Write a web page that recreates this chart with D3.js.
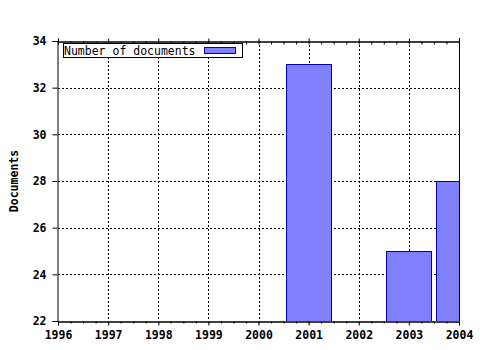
<!DOCTYPE html>
<html>
<head>
<meta charset="utf-8">
<title>Documents</title>
<script src="https://d3js.org/d3.v7.min.js"></script>
<style>
body { margin:0; background:#fff; }
text { font-family: "DejaVu Sans Mono", monospace; }
</style>
</head>
<body>
<svg id="chart" width="480" height="350"></svg>
<script>
// data
var years = [2001, 2003, 2004];
var docs = [33, 25, 28];
var yearTicks = [1996, 1997, 1998, 1999, 2000, 2001, 2002, 2003, 2004];
var docTicks = [22, 24, 26, 28, 30, 32, 34];

var pLeft = 58, pRight = 459, pTop = 41, pBottom = 321;
var svg = d3.select('#chart');
var x = d3.scaleLinear().domain([1996, 2004]).range([pLeft, pRight]);
var y = d3.scaleLinear().domain([22, 34]).range([pBottom, pTop]);

// grid
var grid = svg.append('g').attr('stroke', '#000').attr('stroke-dasharray', '2,2');
grid.selectAll('.gx').data(yearTicks.slice(1, -1)).enter().append('line')
  .attr('x1', d => Math.round(x(d)) + 0.5).attr('x2', d => Math.round(x(d)) + 0.5)
  .attr('y1', pTop).attr('y2', pBottom);
grid.selectAll('.gy').data(docTicks.slice(1, -1)).enter().append('line')
  .attr('y1', d => Math.round(y(d)) + 0.5).attr('y2', d => Math.round(y(d)) + 0.5)
  .attr('x1', pLeft).attr('x2', pRight);

// bars (clipped to plot)
svg.append('clipPath').attr('id', 'clip').append('rect')
  .attr('x', pLeft).attr('y', pTop).attr('width', pRight - pLeft).attr('height', pBottom - pTop);
var bw = (x(1997) - x(1996)) * 0.9;
svg.append('g').attr('clip-path', 'url(#clip)')
  .selectAll('rect').data(years).enter().append('rect')
  .attr('x', d => Math.round(x(d) - bw / 2) + 0.5)
  .attr('y', (d, i) => Math.round(y(docs[i])) + 0.5)
  .attr('width', Math.round(bw))
  .attr('height', (d, i) => pBottom - Math.round(y(docs[i])))
  .attr('fill', '#8080ff').attr('stroke', '#0000b0').attr('stroke-width', 1);

// axes
svg.append('g').attr('transform', 'translate(0,' + (pBottom + 0.5) + ')')
  .call(d3.axisBottom(x).tickValues(yearTicks).tickFormat(d3.format('d')).tickSize(4).tickPadding(5));
svg.append('g').attr('transform', 'translate(0,' + (pTop + 0.5) + ')')
  .call(d3.axisTop(x).tickValues(yearTicks).tickFormat('').tickSize(3));
var minor = d3.range(1996, 2004.01, 0.25);
svg.append('g').attr('transform', 'translate(0,' + (pBottom + 0.5) + ')')
  .call(d3.axisBottom(x).tickValues(minor).tickFormat('').tickSize(2));
svg.append('g').attr('transform', 'translate(0,' + (pTop + 0.5) + ')')
  .call(d3.axisBottom(x).tickValues(minor).tickFormat('').tickSize(3));
svg.append('g').attr('transform', 'translate(' + (pLeft - 0.5) + ',0)')
  .call(d3.axisLeft(y).tickValues(docTicks).tickSize(5).tickPadding(6));
svg.append('line').attr('x1', pRight + 0.5).attr('x2', pRight + 0.5)
  .attr('y1', pTop - 3).attr('y2', pBottom).attr('stroke', '#000');
svg.selectAll('.domain').attr('stroke', '#000');
svg.selectAll('.tick line').attr('stroke', '#000');
svg.selectAll('.tick text').attr('fill', '#000')
  .style('font-family', '"DejaVu Sans Mono", monospace')
  .style('font-size', '11.5px').style('font-weight', 'bold');

// y title
svg.append('text').attr('transform', 'translate(18,' + ((pTop + pBottom) / 2) + ') rotate(-90)')
  .attr('text-anchor', 'middle').style('font-size', '11.5px').style('font-weight', 'bold')
  .text('Documents');

// legend
var lg = svg.append('g');
lg.append('rect').attr('x', 63.5).attr('y', 43.5).attr('width', 179).attr('height', 14)
  .attr('fill', '#fff').attr('stroke', '#000');
lg.append('text').attr('x', 64).attr('y', 54.5).style('font-size', '11.5px').text('Number of documents');
lg.append('rect').attr('x', 204.5).attr('y', 47.5).attr('width', 31).attr('height', 6)
  .attr('fill', '#8080ff').attr('stroke', '#0000b0');
</script>
</body>
</html>
